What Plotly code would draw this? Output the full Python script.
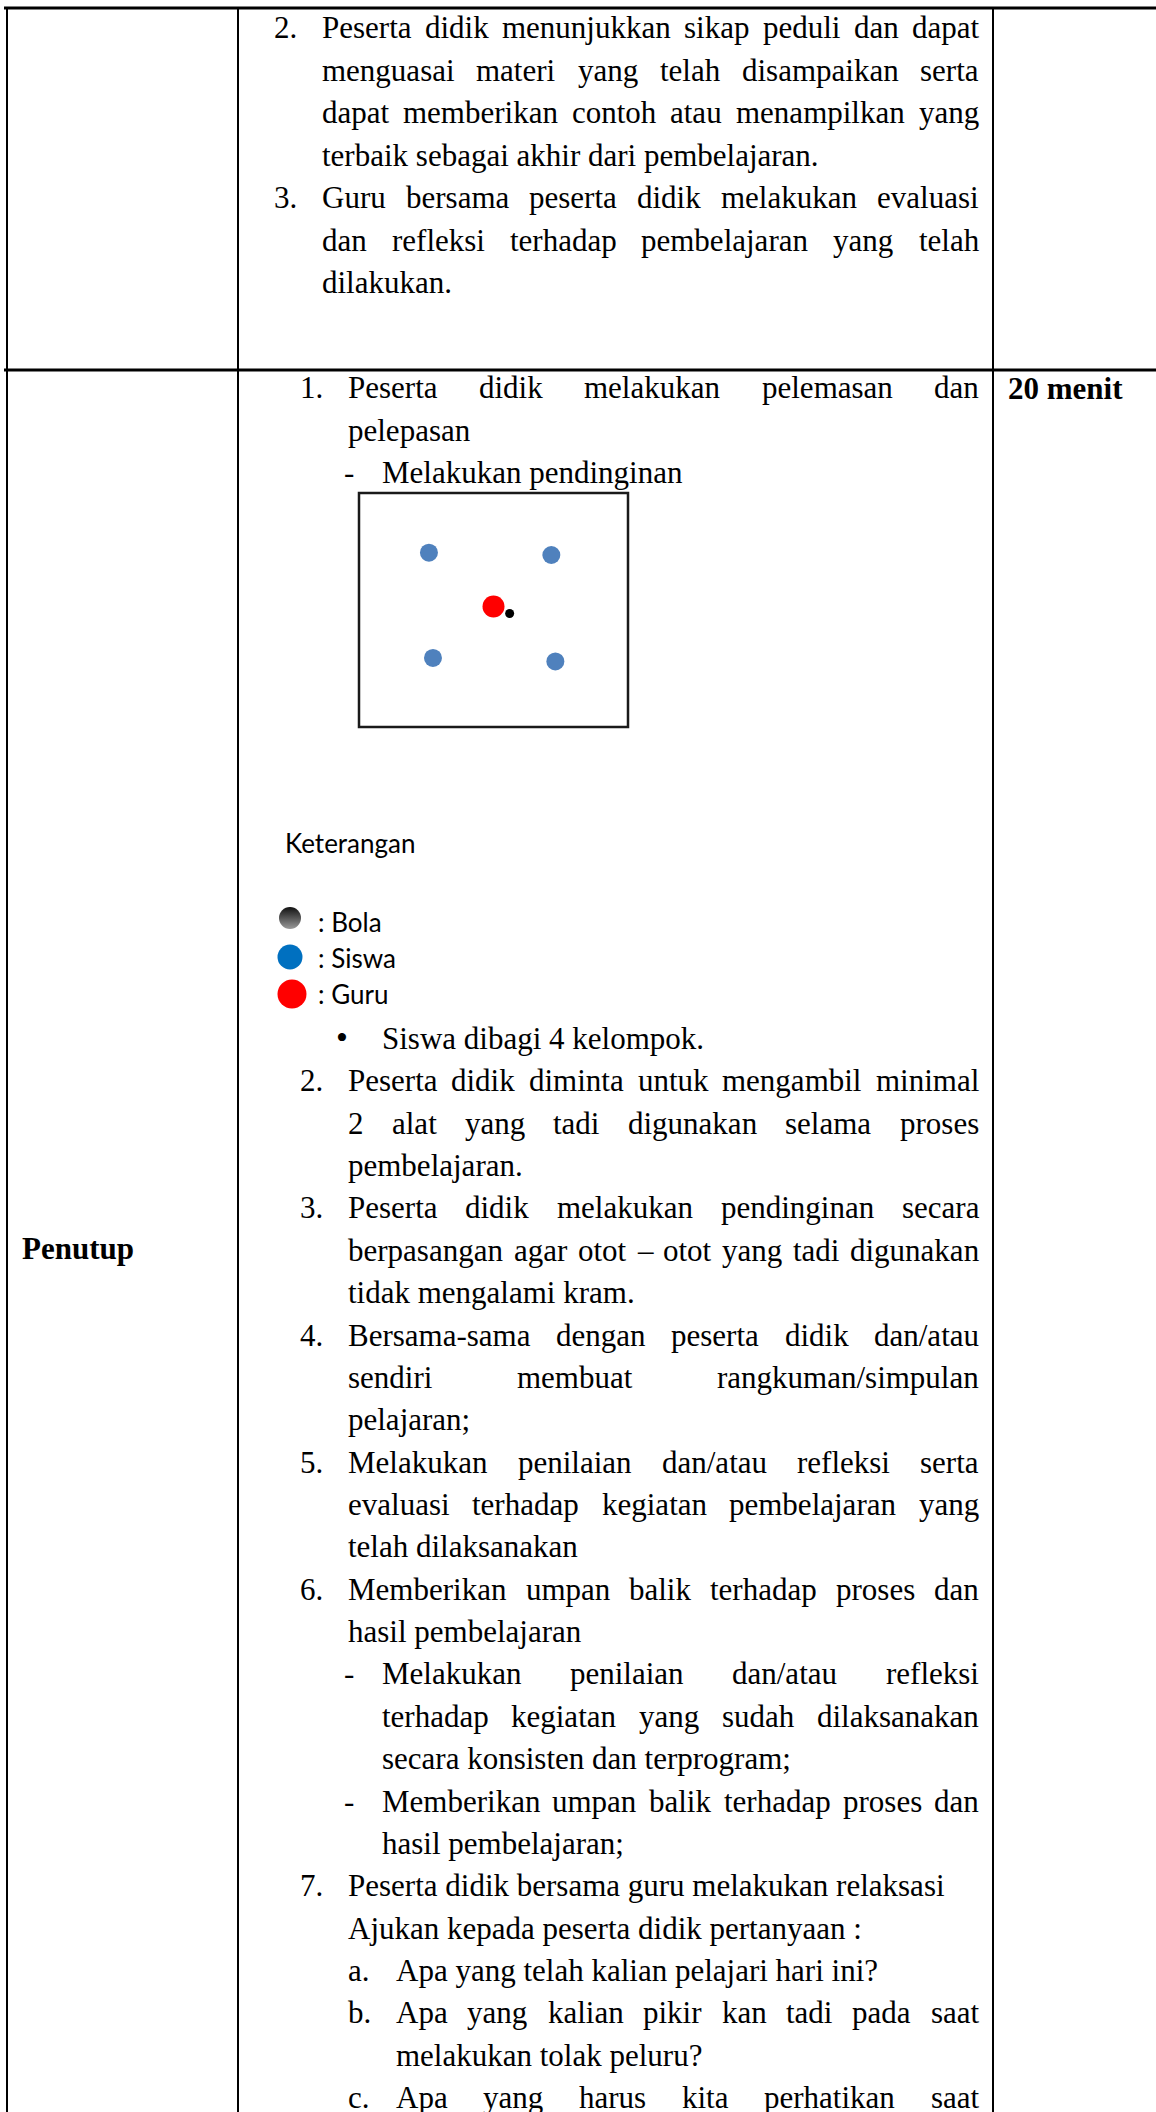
import plotly.graph_objects as go

# ---------- TEXT DATA ----------

top_items = [
    ("2.", [
        "Peserta didik menunjukkan sikap peduli dan dapat",
        "menguasai materi yang telah disampaikan serta",
        "dapat memberikan contoh atau menampilkan yang",
        "terbaik sebagai akhir dari pembelajaran.",
    ]),
    ("3.", [
        "Guru bersama peserta didik melakukan evaluasi",
        "dan refleksi terhadap pembelajaran yang telah",
        "dilakukan.",
    ]),
]

# (indent kind, marker, lines, paragraph runs past the page)
intro_items = [
    ("num", "1.", ["Peserta didik melakukan pelemasan dan", "pelepasan"], False),
    ("sub", "-", ["Melakukan pendinginan"], False),
]

main_items = [
    ("bullet", "\u2022", ["Siswa dibagi 4 kelompok."], False),
    ("num", "2.", [
        "Peserta didik diminta untuk mengambil minimal",
        "2 alat yang tadi digunakan selama proses",
        "pembelajaran.",
    ], False),
    ("num", "3.", [
        "Peserta didik melakukan pendinginan secara",
        "berpasangan agar otot \u2013 otot yang tadi digunakan",
        "tidak mengalami kram.",
    ], False),
    ("num", "4.", [
        "Bersama-sama dengan peserta didik dan/atau",
        "sendiri membuat rangkuman/simpulan",
        "pelajaran;",
    ], False),
    ("num", "5.", [
        "Melakukan penilaian dan/atau refleksi serta",
        "evaluasi terhadap kegiatan pembelajaran yang",
        "telah dilaksanakan",
    ], False),
    ("num", "6.", [
        "Memberikan umpan balik terhadap proses dan",
        "hasil pembelajaran",
    ], False),
    ("sub", "-", [
        "Melakukan penilaian dan/atau refleksi",
        "terhadap kegiatan yang sudah dilaksanakan",
        "secara konsisten dan terprogram;",
    ], False),
    ("sub", "-", [
        "Memberikan umpan balik terhadap proses dan",
        "hasil pembelajaran;",
    ], False),
    ("num", "7.", ["Peserta didik bersama guru melakukan relaksasi"], False),
    ("cont", "", ["Ajukan kepada peserta didik pertanyaan :"], False),
    ("alpha", "a.", ["Apa yang telah kalian pelajari hari ini?"], False),
    ("alpha", "b.", [
        "Apa yang kalian pikir kan tadi pada saat",
        "melakukan tolak peluru?",
    ], False),
    ("alpha", "c.", ["Apa yang harus kita perhatikan saat"], True),
]

phase_label = "Penutup"
duration_label = "20 menit"

# ---------- DIAGRAM DATA (field units 0-100) ----------

siswa_x = [26, 71.5, 27.5, 73]
siswa_y = [74.5, 73.5, 29.5, 28]
guru_x = [50]
guru_y = [51.5]
bola_x = [56]
bola_y = [48.5]

legend_title = "Keterangan"
legend_labels = [": Bola", ": Siswa", ": Guru"]

# ---------- LAYOUT CONSTANTS ----------

W, H = 1156, 2112
SERIF = "Liberation Serif"
SANS = "Lato"
FS = 31
RIGHT = 979

indent = {
    "top": (274, 322),
    "num": (300, 348),
    "sub": (344, 381.5),
    "bullet": (342, 381.5),
    "alpha": (348, 396),
    "cont": (None, 348),
}

# Times advance widths (1/1000 em)
times_w = dict(zip(" abcdefghijklmnopqrstuvwxyz",
                   [250, 444, 500, 444, 500, 444, 333, 500, 500, 278, 278, 500, 278, 778,
                    500, 500, 500, 500, 333, 389, 278, 500, 500, 722, 500, 500, 444]))
times_w.update(zip("ABCDEFGHIJKLMNOPQRSTUVWXYZ",
                   [722, 667, 667, 722, 611, 556, 722, 722, 333, 389, 722, 611, 889, 722,
                    722, 556, 722, 667, 556, 611, 722, 722, 944, 722, 722, 611]))
times_w.update({c: 500 for c in "0123456789"})
times_w.update({".": 250, ",": 250, ";": 278, ":": 278, "?": 444, "/": 278,
                "-": 333, "\u2013": 500, "(": 333, ")": 333})


def text_width(s):
    return sum(times_w.get(c, 500) for c in s) / 1000 * FS


annotations = []


def add_text(txt, x, baseline, size=FS, family=SERIF, anchor="left", shift=None):
    if shift is None:
        shift = 0.3375 * size
    annotations.append(dict(
        x=x, y=baseline - shift, xref="x", yref="y",
        text=txt, showarrow=False, xanchor=anchor, yanchor="middle",
        borderpad=0, borderwidth=0,
        font=dict(family=family, size=size, color="black"),
    ))


def add_line(txt, x_left, baseline, justify):
    words = txt.split(" ")
    if not justify or len(words) < 2:
        add_text(txt, x_left, baseline)
        return
    widths = [text_width(w) for w in words]
    gap = (RIGHT - x_left - sum(widths)) / (len(words) - 1)
    x = x_left
    for w, wd in zip(words, widths):
        add_text(w, x, baseline)
        x += wd + gap


def add_items(items, start, step):
    row = 0
    for kind, marker, lines, runs_on in items:
        mx, tx = indent[kind]
        if marker:
            if kind == "bullet":
                add_text(marker, mx, start + row * step, size=34, anchor="center")
            else:
                add_text(marker, mx, start + row * step)
        for i, line in enumerate(lines):
            last = i == len(lines) - 1
            add_line(line, tx, start + row * step, (not last) or runs_on)
            row += 1


# top row
add_items([("top", m, ls, False) for m, ls in top_items], 38, 42.5)
# second row
add_items(intro_items, 398, 42.5)
add_items(main_items, 1049, 42.36)

add_text("<b>%s</b>" % phase_label, 22, 1259)
add_text("<b>%s</b>" % duration_label, 1008, 399)

# legend texts
add_text(legend_title, 285, 853, size=26, family=SANS, shift=0.387 * 26)
legend_base = [932, 968, 1004]
for lab, b in zip(legend_labels, legend_base):
    add_text(lab, 318, b, size=26, family=SANS, shift=0.387 * 26)

fig = go.Figure()

# diagram markers
fig.add_trace(go.Scatter(
    x=siswa_x, y=siswa_y, mode="markers", xaxis="x2", yaxis="y2",
    marker=dict(size=18, color="#4F81BD", line=dict(width=0)),
))
fig.add_trace(go.Scatter(
    x=guru_x, y=guru_y, mode="markers", xaxis="x2", yaxis="y2",
    marker=dict(size=22, color="#FF0000", line=dict(width=0)),
))
fig.add_trace(go.Scatter(
    x=bola_x, y=bola_y, mode="markers", xaxis="x2", yaxis="y2",
    marker=dict(size=9, color="black", line=dict(width=0)),
))

# legend icons
icon_x = 290
fig.add_trace(go.Scatter(
    x=[icon_x], y=[legend_base[0] - 14], mode="markers",
    marker=dict(size=22, color="#111111", line=dict(width=0),
                gradient=dict(type="vertical", color="#9a9a9a")),
))
fig.add_trace(go.Scatter(
    x=[icon_x], y=[legend_base[1] - 11], mode="markers",
    marker=dict(size=25, color="#0070C0", line=dict(width=0)),
))
fig.add_trace(go.Scatter(
    x=[icon_x + 2], y=[legend_base[2] - 10], mode="markers",
    marker=dict(size=29, color="#FF0000", line=dict(width=0)),
))

# table lines
line_k = dict(color="black")
shapes = [
    dict(type="line", x0=4, x1=W, y0=8, y1=8, line=dict(width=3, **line_k)),
    dict(type="line", x0=4, x1=W, y0=370, y1=370, line=dict(width=3, **line_k)),
    dict(type="line", x0=7, x1=7, y0=7, y1=H, line=dict(width=2, **line_k)),
    dict(type="line", x0=238, x1=238, y0=7, y1=H, line=dict(width=2, **line_k)),
    dict(type="line", x0=993, x1=993, y0=7, y1=H, line=dict(width=2, **line_k)),
    dict(type="rect", xref="x2 domain", yref="y2 domain", x0=0, x1=1, y0=0, y1=1,
         line=dict(width=2.5, color="#1a1a1a")),
]
for s in shapes:
    s.setdefault("xref", "x")
    s.setdefault("yref", "y")

box_l, box_r, box_t, box_b = 359, 628, 493, 727

fig.update_layout(
    width=W, height=H,
    margin=dict(l=0, r=0, t=0, b=0),
    paper_bgcolor="white",
    plot_bgcolor="rgba(0,0,0,0)",
    showlegend=False,
    hovermode=False,
    xaxis=dict(range=[0, W], visible=False, domain=[0, 1]),
    yaxis=dict(range=[H, 0], visible=False, domain=[0, 1]),
    xaxis2=dict(range=[0, 100], visible=False, anchor="y2",
                domain=[box_l / W, box_r / W]),
    yaxis2=dict(range=[0, 100], visible=False, anchor="x2",
                domain=[1 - box_b / H, 1 - box_t / H]),
    shapes=shapes,
    annotations=annotations,
)

# page body has a default 8px margin; drop it so the figure sits at 0,0
fig.write_html("out.html", config={"displayModeBar": False},
               post_script="document.body.style.margin='0px';")
